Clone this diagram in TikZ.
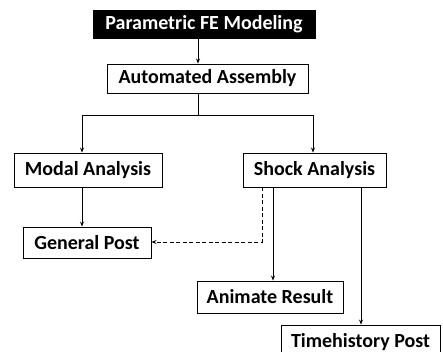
\documentclass[tikz,border=0pt]{standalone}
\usepackage{fontspec}
\setmainfont{Carlito}
\usetikzlibrary{arrows.meta}
\begin{document}
\begin{tikzpicture}[x=1pt,y=-1pt,
  box/.style={draw=black,line width=0.9pt,fill=white,inner sep=0pt,font=\bfseries\fontsize{20}{22}\selectfont,text=black},
  arr/.style={line width=0.8pt,-{Stealth[length=5pt,width=4pt]}},
  dsh/.style={arr,dash pattern=on 4pt off 2.5pt}]
\useasboundingbox (0,0) rectangle (443,352);
\node[box,fill=black,text=white,minimum width=222,minimum height=28] (pfe) at (204,24) {Parametric FE Modeling};
\node[box,minimum width=201,minimum height=29] (aa) at (207.5,78.5) {Automated Assembly};
\node[box,minimum width=148,minimum height=34] (modal) at (88,170) {Modal Analysis};
\node[box,minimum width=143,minimum height=34] (shock) at (314.5,170) {Shock Analysis};
\node[box,minimum width=128,minimum height=31] (gp) at (87,242.5) {General Post};
\node[box,minimum width=146,minimum height=32] (anim) at (270,297) {Animate Result};
\node[box,minimum width=159,minimum height=34] (th) at (360.5,342) {Timehistory Post};
\coordinate (xa) at (198,0);
\coordinate (xl) at (82,0);
\coordinate (xr) at (313,0);
\coordinate (xd) at (262,0);
\coordinate (xan) at (273,0);
\coordinate (xt) at (361,0);
\coordinate (split) at (198,115);
\coordinate (bend) at (262,242);
\draw[arr] (pfe.south -| xa) -- (aa.north -| xa);
\draw[line width=0.8pt] (aa.south -| xa) -- (split);
\draw[arr] (split) -| (modal.north -| xl);
\draw[arr] (split) -| (shock.north -| xr);
\draw[arr] (modal.south -| xl) -- (gp.north -| xl);
\draw[dsh] (shock.south -| xd) -- (bend) -- (gp.east |- bend);
\draw[arr] (shock.south -| xan) -- (anim.north -| xan);
\draw[arr] (shock.south -| xt) -- (th.north -| xt);
\end{tikzpicture}
\end{document}
